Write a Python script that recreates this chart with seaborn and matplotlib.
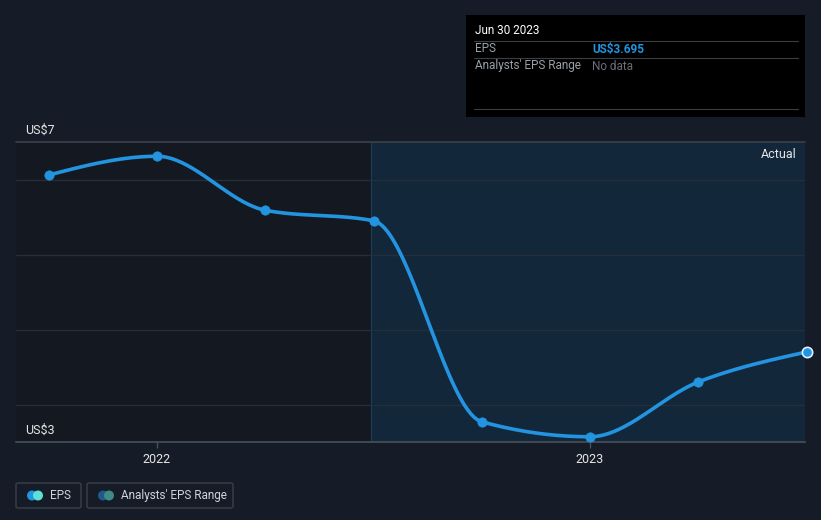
import numpy as np
import pandas as pd
import matplotlib
matplotlib.use("Agg")
import matplotlib.pyplot as plt
import matplotlib.patches as mpatches
from matplotlib.lines import Line2D
import seaborn as sns

# ---- data ----
quarters = ["Sep 2021", "Dec 2021", "Mar 2022", "Jun 2022", "Sep 2022", "Dec 2022", "Mar 2023", "Jun 2023"]
eps = [6.56, 6.81, 6.09, 5.95, 3.27, 3.07, 3.80, 4.20]
x_ticks = [1, 5]
x_tick_labels = ["2022", "2023"]
y_labels = ["US$7", "US$3"]
tooltip_date = "Jun 30 2023"
tooltip_eps = "US$3.695"

BG = "#161c27"
BLUE = "#2394df"

sns.set_theme(style="dark")
plt.rcParams['font.family'] = ['Roboto', 'DejaVu Sans']

fig = plt.figure(figsize=(8.21, 5.20), dpi=100)
fig.patch.set_facecolor(BG)
W, H = 821, 520
ax = fig.add_axes([16 / W, (H - 442) / H, 789 / W, 300 / H])
ax.set_facecolor("#141921")

xs = np.arange(len(eps), dtype=float)
ys = np.array(eps)

# monotone cubic (d3 curveMonotoneX style) rendering of the line
def monotone(x, y, n=40):
    h = np.diff(x)
    d = np.diff(y) / h
    m = np.zeros_like(y)
    for i in range(1, len(y) - 1):
        if d[i - 1] * d[i] <= 0:
            m[i] = 0
        else:
            m[i] = (np.sign(d[i - 1]) + np.sign(d[i])) * min(abs(d[i - 1]), abs(d[i]), 0.5 * abs((h[i - 1] * d[i] + h[i] * d[i - 1]) / (h[i - 1] + h[i])))
    m[0] = (3 * d[0] - m[1]) / 2 if len(y) > 2 else d[0]
    m[-1] = (3 * d[-1] - m[-2]) / 2 if len(y) > 2 else d[-1]
    X, Y = [], []
    for i in range(len(x) - 1):
        t = np.linspace(0, 1, n, endpoint=(i == len(x) - 2))
        h00 = 2 * t**3 - 3 * t**2 + 1
        h10 = t**3 - 2 * t**2 + t
        h01 = -2 * t**3 + 3 * t**2
        h11 = t**3 - t**2
        X.append(x[i] + t * h[i])
        Y.append(h00 * y[i] + h10 * h[i] * m[i] + h01 * y[i + 1] + h11 * h[i] * m[i + 1])
    return np.concatenate(X), np.concatenate(Y)

sx, sy = monotone(xs, ys)

xmin, xmax = -0.3025, 6.986
ymin, ymax = 3.0, 7.0
ax.set_xlim(xmin, xmax)
ax.set_ylim(ymin, ymax)

# shaded "actual" region
split = 2.98
ax.axvspan(split, xmax, color="#13273b", zorder=0, lw=0)
ax.axvline(split, color="#1d3d5a", lw=0.8, zorder=1)

# gridlines
for g in [3.5, 4.5, 5.5, 6.5]:
    ax.axhline(g, color="#262e3a", lw=0.9, zorder=1)
ax.axhline(7.0, color="#3b4049", lw=1.2, zorder=1, clip_on=False)

df = pd.DataFrame({"x": sx, "y": sy})
sns.lineplot(data=df, x="x", y="y", ax=ax, color=BLUE, lw=2.6, zorder=3, legend=False)
pts = pd.DataFrame({"x": xs[:-1], "y": ys[:-1]})
sns.scatterplot(data=pts, x="x", y="y", ax=ax, color=BLUE, s=45, edgecolor=BLUE, zorder=4, legend=False)
ax.scatter([xs[-1]], [ys[-1]], s=55, color=BLUE, edgecolor="#dff1ff", linewidth=1.2, zorder=5, clip_on=False)

ax.set_xlabel("")
ax.set_ylabel("")
ax.set_yticks([])
ax.set_xticks(x_ticks)
ax.set_xticklabels(x_tick_labels, color="#e6e6e6", fontsize=9)
ax.tick_params(axis="x", length=4, color="#4a505a", width=1, pad=4, bottom=True)
for s in ["top", "right", "left"]:
    ax.spines[s].set_visible(False)
ax.spines["bottom"].set_color("#4a505a")
ax.spines["bottom"].set_linewidth(1.2)

ax.text(xmax - 0.08, 6.92, "Actual", color="#e6e6e6", fontsize=9, ha="right", va="top")

# y labels (figure coords)
fig.text(25 / W, 1 - 130 / H, y_labels[0], color="#e6e6e6", fontsize=9, va="center", ha="left")
fig.text(25 / W, 1 - 430 / H, y_labels[1], color="#e6e6e6", fontsize=9, va="center", ha="left")

# tooltip box
def fx(px):
    return px / W
def fy(py):
    return 1 - py / H
fig.patches.append(mpatches.Rectangle((fx(466), fy(117)), 339 / W, 102 / H, transform=fig.transFigure, facecolor="#000000", edgecolor="none", zorder=10))
for ly in [41, 58, 109]:
    fig.lines.append(Line2D([fx(474), fx(798)], [fy(ly), fy(ly)], transform=fig.transFigure, color="#3a3d42", lw=0.8, zorder=11))
fig.text(fx(475), fy(31), tooltip_date, color="#ffffff", fontsize=8.5, va="center", zorder=12)
fig.text(fx(475), fy(49), "EPS", color="#9aa0a6", fontsize=8.5, va="center", zorder=12)
fig.text(fx(592), fy(49), tooltip_eps, color=BLUE, fontsize=8.5, va="center", fontweight="bold", zorder=12)
fig.text(fx(475), fy(66), "Analysts' EPS Range", color="#9aa0a6", fontsize=8.5, va="center", zorder=12)
fig.text(fx(592), fy(66), "No data", color="#6b6f75", fontsize=8.5, va="center", zorder=12)

# legend
def legend_box(x0, x1, label, c1, c2):
    fig.patches.append(mpatches.FancyBboxPatch((fx(x0), fy(508)), (x1 - x0) / W, 25 / H, boxstyle="round,pad=0,rounding_size=0.003", transform=fig.transFigure, facecolor="none", edgecolor="#3a3f48", lw=1))
    fig.patches.append(mpatches.Ellipse((fx(x0 + 16), fy(495.5)), 10 / W, 10 / H, transform=fig.transFigure, facecolor=c1, edgecolor="none"))
    fig.patches.append(mpatches.Ellipse((fx(x0 + 22), fy(495.5)), 10 / W, 10 / H, transform=fig.transFigure, facecolor=c2, edgecolor="none"))
    fig.text(fx(x0 + 34), fy(495.5), label, color="#d0d3d8", fontsize=8.5, va="center")

legend_box(16, 81, "EPS", BLUE, "#5fe0d6")
legend_box(87, 233, "Analysts' EPS Range", "#1f5a8a", "#3f8a84")

fig.savefig("out.png", dpi=100, facecolor=BG)
